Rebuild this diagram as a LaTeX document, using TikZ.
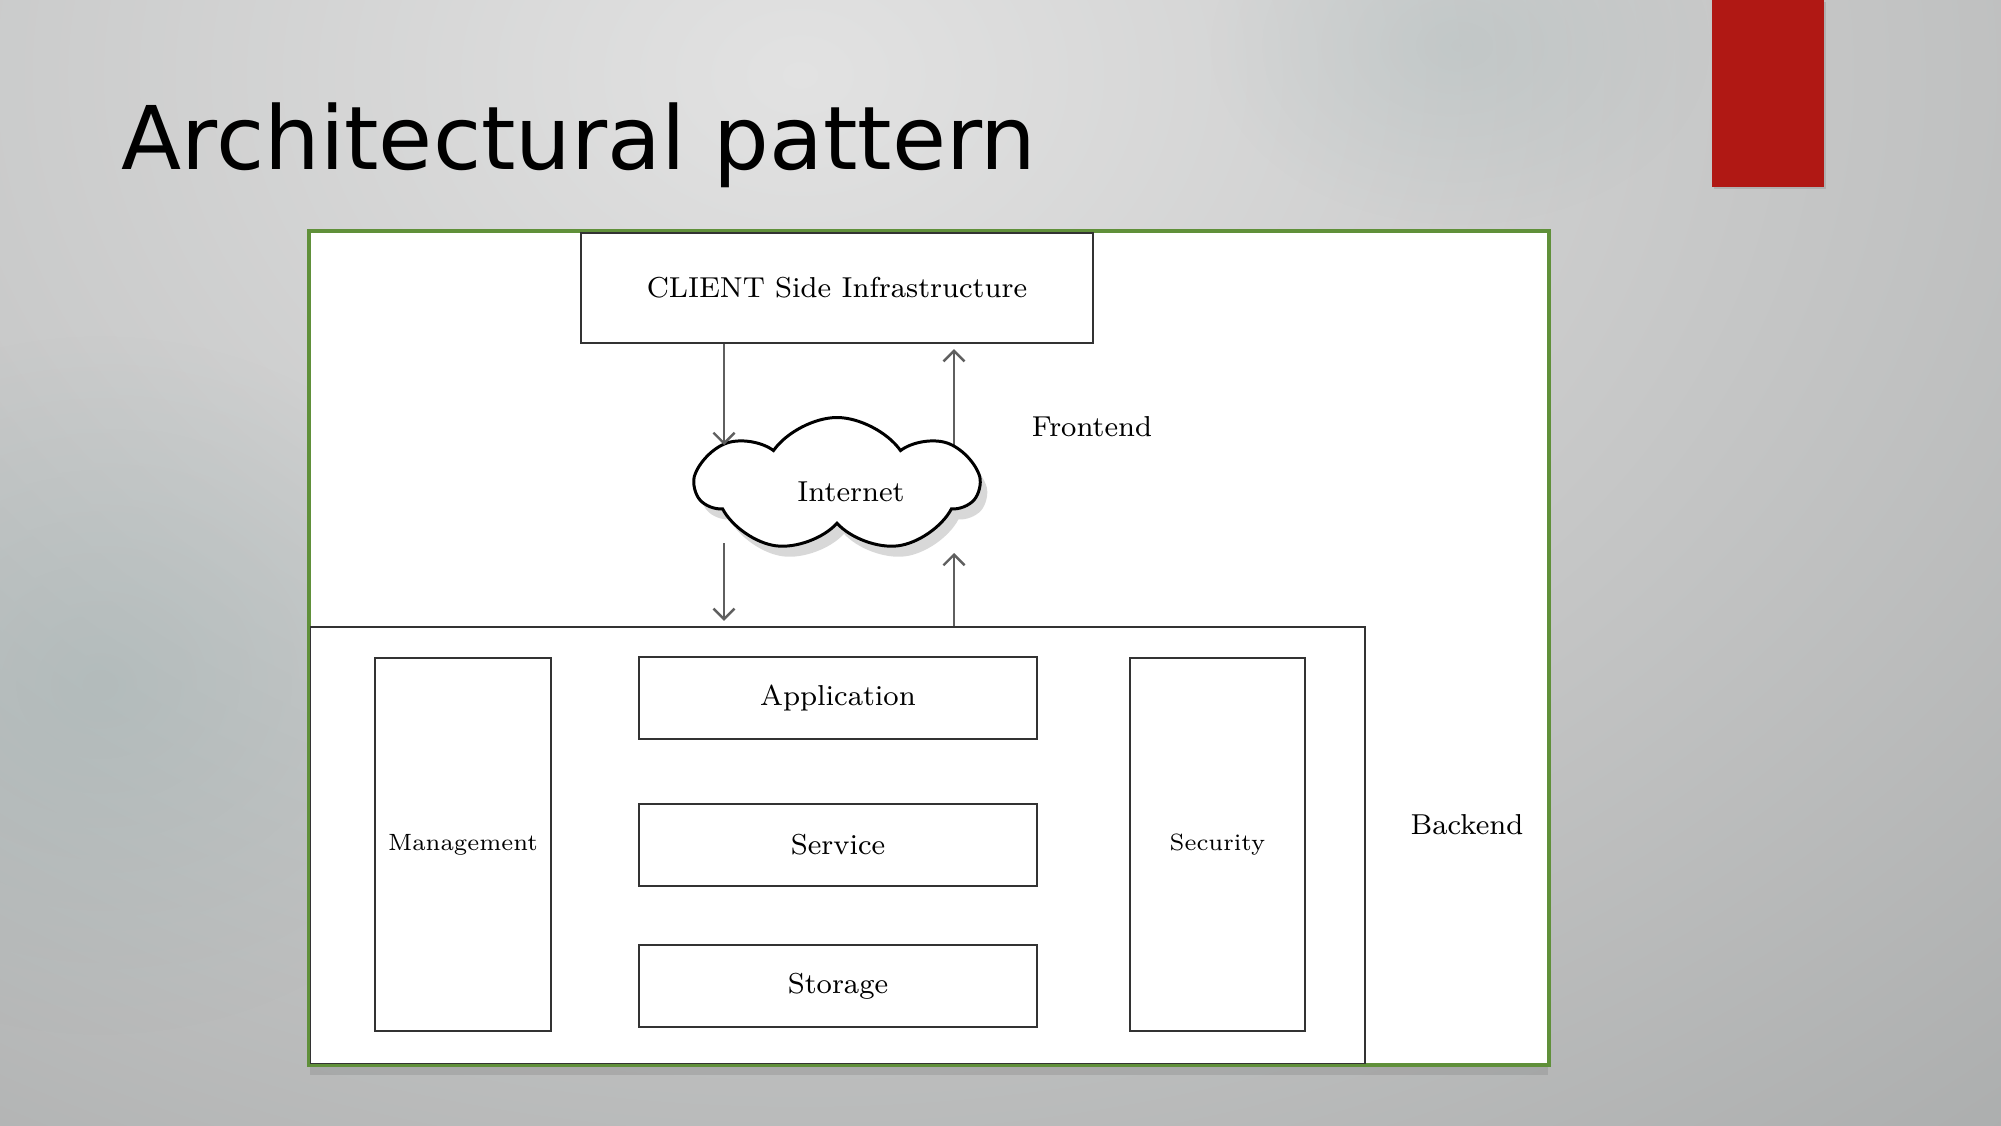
\documentclass[tikz,border=0pt]{standalone}
\usepackage{fontspec}
\newfontfamily\titlefont{DejaVu Sans}
\usetikzlibrary{arrows.meta,shapes,shadows,fadings,positioning,calc}
\definecolor{slidebg}{RGB}{168,170,170}
\definecolor{slidelight}{RGB}{226,226,226}
\definecolor{slideteal}{RGB}{155,175,175}
\definecolor{framegreen}{RGB}{96,144,58}
\definecolor{barred}{RGB}{176,24,20}
\definecolor{linegray}{RGB}{95,95,95}
\tikzfading[name=softspot, inner color=transparent!0, outer color=transparent!100]
\tikzset{
	box/.style={draw=black!80,line width=0.65pt,fill=white,inner sep=0pt},
	diredge/.style={-{Straight Barb[length=3pt,width=6pt]},draw=linegray,line width=0.7pt},
	lbl/.style={font=\fontsize{8.2}{9}\selectfont},
	smalllbl/.style={font=\fontsize{6.7}{8}\selectfont},
	frameline/.style={draw=framegreen,line width=0.8pt}
}
\begin{document}
\begin{tikzpicture}

	%%slide background
	\useasboundingbox (0,0) rectangle (20.01,11.25);
	\fill[slidebg] (0,0) rectangle (20.01,11.25);
	\begin{scope}
		\clip (0,0) rectangle (20.01,11.25);
		\shade[inner color=slidelight,outer color=slidebg] (8,10.5) ellipse (20 and 15);
		\fill[slideteal,path fading=softspot,opacity=0.4] (1.0,4.4) ellipse (4 and 3.5);
		\fill[slideteal,path fading=softspot,opacity=0.25] (14.6,10.8) ellipse (2.5 and 1.8);
	\end{scope}
	\fill[barred,drop shadow={shadow xshift=0.5pt,shadow yshift=-0.5pt,opacity=0.3}] (17.12,11.25) rectangle (18.24,9.38);
	\node[anchor=base west,inner sep=0,font=\titlefont\fontsize{25}{30}\selectfont] (title) at (1.21,9.55) {Architectural pattern};

	%%white frame
	\node[frameline,fill=white,inner sep=0,minimum width=12.38cm,minimum height=8.32cm,
		drop shadow={shadow xshift=0pt,shadow yshift=-3pt,opacity=0.3}] (frame) at (9.29,4.77) {};

	%%frontend
	\node[box,lbl,minimum width=5.12cm,minimum height=1.10cm] (client) at (8.37,8.37) {CLIENT Side Infrastructure};

	%%arrows client <-> internet <-> backend (cloud drawn over their ends)
	\coordinate (inTip) at (7.24,6.80);
	\coordinate (inOut) at (7.24,5.82);
	\coordinate (upOut) at (9.54,6.30);
	\coordinate (upTip) at (9.54,5.72);
	\node[box,minimum width=10.55cm,minimum height=4.37cm] (backend) at (8.375,2.795) {};
	\draw[diredge] (inOut) -- ($(backend.north -| inOut)+(0,0.05)$);
	\draw[diredge] (upOut) -- ($(client.south -| upOut)+(0,-0.05)$);
	\draw[diredge] (backend.north -| upTip) -- (upTip);

	\node[cloud,draw=black,line width=0.85pt,fill=white,cloud puffs=7,cloud puff arc=110,aspect=2,inner sep=0,
		shape border rotate=8,minimum width=2.81cm,minimum height=1.35cm,
		drop shadow={shadow xshift=2pt,shadow yshift=-3pt,opacity=0.3}] (inet) at (8.37,6.40) {};
	\draw[diredge] (client.south -| inTip) -- (inTip);
	\node[lbl] (inettext) at (8.51,6.33) {Internet};
	\node[lbl] (front) at (10.92,6.98) {Frontend};

	%%backend
	\node[box,smalllbl,minimum width=1.76cm,minimum height=3.73cm] (mgmt) at (4.63,2.805) {Management};
	\node[box,lbl,minimum width=3.98cm,minimum height=0.82cm] (app) at (8.38,4.27) {Application};
	\node[box,lbl,minimum width=3.98cm,minimum height=0.82cm] (serv) at (8.38,2.80) {Service};
	\node[box,lbl,minimum width=3.98cm,minimum height=0.82cm] (stor) at (8.38,1.39) {Storage};
	\node[box,smalllbl,minimum width=1.75cm,minimum height=3.73cm] (sec) at (12.175,2.805) {Security};
	\node[lbl] (back) at (14.67,3.00) {Backend};

	%%frame border on top
	\draw[frameline] (frame.south west) rectangle (frame.north east);
\end{tikzpicture}
\end{document}
